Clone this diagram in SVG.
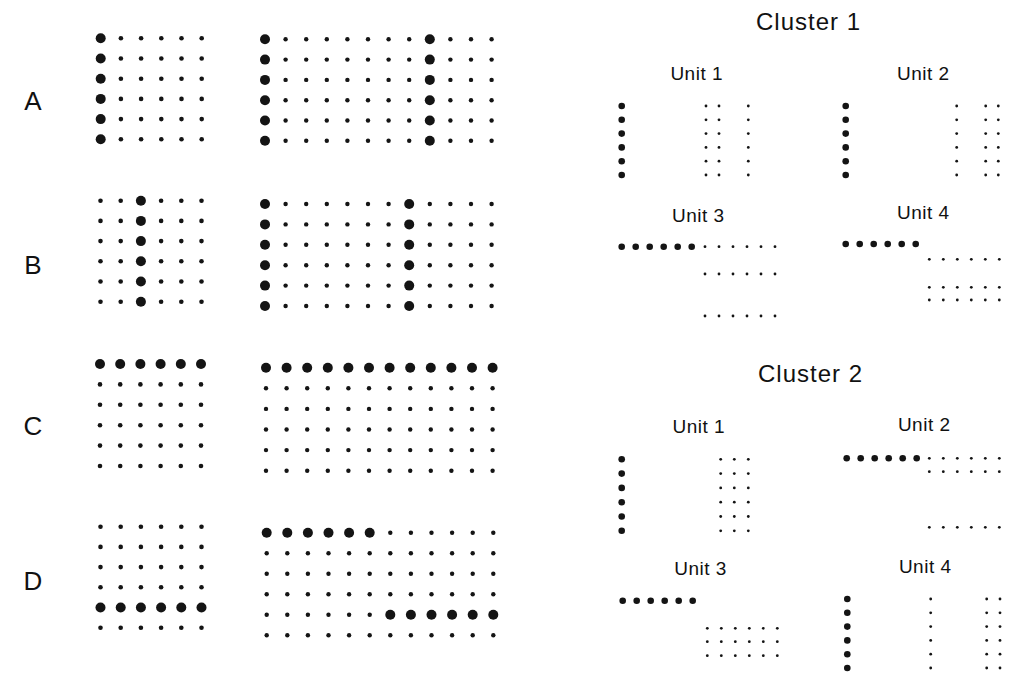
<svg xmlns="http://www.w3.org/2000/svg" width="1012" height="673" viewBox="0 0 1012 673">
<style>
text{font-family:"Liberation Sans",Arial,sans-serif;fill:#111}
.lbl{font-size:26px;text-anchor:middle}
.cl{font-size:24px;text-anchor:middle;letter-spacing:1px}
.un{font-size:19px;text-anchor:middle;letter-spacing:0.5px}
circle{fill:#141414}
</style>
<defs>
<g id="a6s"><circle cx="0" r="2.3"/><circle cx="20.2" r="2.3"/><circle cx="40.4" r="2.3"/><circle cx="60.6" r="2.3"/><circle cx="80.8" r="2.3"/><circle cx="101" r="2.3"/></g>
<g id="a6b"><circle cx="0" r="5"/><circle cx="20.2" r="5"/><circle cx="40.4" r="5"/><circle cx="60.6" r="5"/><circle cx="80.8" r="5"/><circle cx="101" r="5"/></g>
<g id="b6s"><circle cx="0" r="2.2"/><circle cx="20.6" r="2.2"/><circle cx="41.2" r="2.2"/><circle cx="61.8" r="2.2"/><circle cx="82.4" r="2.2"/><circle cx="103" r="2.2"/></g>
<g id="b6b"><circle cx="0" r="5"/><circle cx="20.6" r="5"/><circle cx="41.2" r="5"/><circle cx="61.8" r="5"/><circle cx="82.4" r="5"/><circle cx="103" r="5"/></g>
<g id="hB"><circle cx="0" r="3.3"/><circle cx="14" r="3.3"/><circle cx="28" r="3.3"/><circle cx="42" r="3.3"/><circle cx="56" r="3.3"/><circle cx="70" r="3.3"/></g>
<g id="hs"><circle cx="0" r="1.4"/><circle cx="14" r="1.4"/><circle cx="28" r="1.4"/><circle cx="42" r="1.4"/><circle cx="56" r="1.4"/><circle cx="70" r="1.4"/></g>
<g id="vB"><circle cy="0" r="3.3"/><circle cy="13.8" r="3.3"/><circle cy="27.6" r="3.3"/><circle cy="41.4" r="3.3"/><circle cy="55.2" r="3.3"/><circle cy="69" r="3.3"/></g>
<g id="vs"><circle cy="0" r="1.4"/><circle cy="13.8" r="1.4"/><circle cy="27.6" r="1.4"/><circle cy="41.4" r="1.4"/><circle cy="55.2" r="1.4"/><circle cy="69" r="1.4"/></g>
<g id="wB"><circle cy="0" r="3.3"/><circle cy="14.3" r="3.3"/><circle cy="28.6" r="3.3"/><circle cy="42.9" r="3.3"/><circle cy="57.2" r="3.3"/><circle cy="71.5" r="3.3"/></g>
<g id="ws"><circle cy="0" r="1.4"/><circle cy="14.3" r="1.4"/><circle cy="28.6" r="1.4"/><circle cy="42.9" r="1.4"/><circle cy="57.2" r="1.4"/><circle cy="71.5" r="1.4"/></g>
</defs>
<rect width="1012" height="673" fill="#fff"/>

<g id="labels">
<text class="lbl" x="33" y="110">A</text>
<text class="lbl" x="33" y="274">B</text>
<text class="lbl" x="33" y="435">C</text>
<text class="lbl" x="33" y="590">D</text>
</g>

<g id="gridA-left">
<use href="#a6s" x="100.7" y="38.3"/><use href="#a6s" x="100.7" y="58.5"/><use href="#a6s" x="100.7" y="78.7"/><use href="#a6s" x="100.7" y="98.9"/><use href="#a6s" x="100.7" y="119.1"/><use href="#a6s" x="100.7" y="139.3"/>
<circle cx="100.7" cy="38.3" r="5"/><circle cx="100.7" cy="58.5" r="5"/><circle cx="100.7" cy="78.7" r="5"/><circle cx="100.7" cy="98.9" r="5"/><circle cx="100.7" cy="119.1" r="5"/><circle cx="100.7" cy="139.3" r="5"/>
</g>
<g id="gridA-right">
<use href="#b6s" x="265" y="39.3"/><use href="#b6s" x="388.6" y="39.3"/>
<use href="#b6s" x="265" y="59.6"/><use href="#b6s" x="388.6" y="59.6"/>
<use href="#b6s" x="265" y="79.9"/><use href="#b6s" x="388.6" y="79.9"/>
<use href="#b6s" x="265" y="100.2"/><use href="#b6s" x="388.6" y="100.2"/>
<use href="#b6s" x="265" y="120.5"/><use href="#b6s" x="388.6" y="120.5"/>
<use href="#b6s" x="265" y="140.8"/><use href="#b6s" x="388.6" y="140.8"/>
<circle cx="265" cy="39.3" r="5"/><circle cx="265" cy="59.6" r="5"/><circle cx="265" cy="79.9" r="5"/><circle cx="265" cy="100.2" r="5"/><circle cx="265" cy="120.5" r="5"/><circle cx="265" cy="140.8" r="5"/>
<circle cx="429.8" cy="39.3" r="5"/><circle cx="429.8" cy="59.6" r="5"/><circle cx="429.8" cy="79.9" r="5"/><circle cx="429.8" cy="100.2" r="5"/><circle cx="429.8" cy="120.5" r="5"/><circle cx="429.8" cy="140.8" r="5"/>
</g>

<g id="gridB-left">
<use href="#a6s" x="100.5" y="200.7"/><use href="#a6s" x="100.5" y="220.9"/><use href="#a6s" x="100.5" y="241.1"/><use href="#a6s" x="100.5" y="261.3"/><use href="#a6s" x="100.5" y="281.5"/><use href="#a6s" x="100.5" y="301.7"/>
<circle cx="140.9" cy="200.7" r="5"/><circle cx="140.9" cy="220.9" r="5"/><circle cx="140.9" cy="241.1" r="5"/><circle cx="140.9" cy="261.3" r="5"/><circle cx="140.9" cy="281.5" r="5"/><circle cx="140.9" cy="301.7" r="5"/>
</g>
<g id="gridB-right">
<use href="#b6s" x="265" y="204"/><use href="#b6s" x="388.6" y="204"/>
<use href="#b6s" x="265" y="224.4"/><use href="#b6s" x="388.6" y="224.4"/>
<use href="#b6s" x="265" y="244.8"/><use href="#b6s" x="388.6" y="244.8"/>
<use href="#b6s" x="265" y="265.2"/><use href="#b6s" x="388.6" y="265.2"/>
<use href="#b6s" x="265" y="285.6"/><use href="#b6s" x="388.6" y="285.6"/>
<use href="#b6s" x="265" y="306"/><use href="#b6s" x="388.6" y="306"/>
<circle cx="265" cy="204" r="5"/><circle cx="265" cy="224.4" r="5"/><circle cx="265" cy="244.8" r="5"/><circle cx="265" cy="265.2" r="5"/><circle cx="265" cy="285.6" r="5"/><circle cx="265" cy="306" r="5"/>
<circle cx="409.2" cy="204" r="5"/><circle cx="409.2" cy="224.4" r="5"/><circle cx="409.2" cy="244.8" r="5"/><circle cx="409.2" cy="265.2" r="5"/><circle cx="409.2" cy="285.6" r="5"/><circle cx="409.2" cy="306" r="5"/>
</g>

<g id="gridC-left">
<use href="#a6b" x="100" y="364"/><use href="#a6s" x="100" y="384.4"/><use href="#a6s" x="100" y="404.8"/><use href="#a6s" x="100" y="425.2"/><use href="#a6s" x="100" y="445.6"/><use href="#a6s" x="100" y="466"/>
</g>
<g id="gridC-right">
<use href="#b6b" x="266" y="367.7"/><use href="#b6b" x="389.6" y="367.7"/>
<use href="#b6s" x="266" y="388.3"/><use href="#b6s" x="389.6" y="388.3"/>
<use href="#b6s" x="266" y="408.9"/><use href="#b6s" x="389.6" y="408.9"/>
<use href="#b6s" x="266" y="429.5"/><use href="#b6s" x="389.6" y="429.5"/>
<use href="#b6s" x="266" y="450.1"/><use href="#b6s" x="389.6" y="450.1"/>
<use href="#b6s" x="266" y="470.7"/><use href="#b6s" x="389.6" y="470.7"/>
</g>

<g id="gridD-left">
<use href="#a6s" x="100.5" y="526.7"/><use href="#a6s" x="100.5" y="546.9"/><use href="#a6s" x="100.5" y="567.1"/><use href="#a6s" x="100.5" y="587.3"/><use href="#a6b" x="100.5" y="607.5"/><use href="#a6s" x="100.5" y="627.7"/>
</g>
<g id="gridD-right">
<use href="#b6b" x="266.7" y="532.7"/><use href="#b6s" x="390.3" y="532.7"/>
<use href="#b6s" x="266.7" y="553.2"/><use href="#b6s" x="390.3" y="553.2"/>
<use href="#b6s" x="266.7" y="573.7"/><use href="#b6s" x="390.3" y="573.7"/>
<use href="#b6s" x="266.7" y="594.2"/><use href="#b6s" x="390.3" y="594.2"/>
<use href="#b6s" x="266.7" y="614.7"/><use href="#b6b" x="390.3" y="614.7"/>
<use href="#b6s" x="266.7" y="635.2"/><use href="#b6s" x="390.3" y="635.2"/>
</g>

<g id="cluster1">
<text class="cl" x="808.5" y="30">Cluster 1</text>
<g id="c1-unit1">
<text class="un" x="696.7" y="80">Unit 1</text>
<use href="#vB" x="621.7" y="106"/><use href="#vs" x="706" y="106"/><use href="#vs" x="719" y="106"/><use href="#vs" x="748.3" y="106"/>
</g>
<g id="c1-unit2">
<text class="un" x="923.3" y="80">Unit 2</text>
<use href="#vB" x="845.7" y="106"/><use href="#vs" x="956.7" y="106"/><use href="#vs" x="985.7" y="106"/><use href="#vs" x="998.3" y="106"/>
</g>
<g id="c1-unit3">
<text class="un" x="698.3" y="222.3">Unit 3</text>
<use href="#hB" x="621.7" y="246.7"/><use href="#hs" x="705" y="246.7"/><use href="#hs" x="705" y="274"/><use href="#hs" x="705" y="316"/>
</g>
<g id="c1-unit4">
<text class="un" x="923.3" y="219.3">Unit 4</text>
<use href="#hB" x="845.7" y="244"/><use href="#hs" x="929.3" y="259.3"/><use href="#hs" x="929.3" y="287.3"/><use href="#hs" x="929.3" y="300"/>
</g>
</g>

<g id="cluster2">
<text class="cl" x="810.5" y="381.7">Cluster 2</text>
<g id="c2-unit1">
<text class="un" x="698.8" y="432.7">Unit 1</text>
<use href="#wB" x="621.7" y="459.3"/><use href="#ws" x="720.7" y="459.3"/><use href="#ws" x="734.3" y="459.3"/><use href="#ws" x="748.3" y="459.3"/>
</g>
<g id="c2-unit2">
<text class="un" x="924.2" y="430.7">Unit 2</text>
<use href="#hB" x="846.7" y="458.3"/><use href="#hs" x="929.3" y="458.3"/><use href="#hs" x="929.3" y="471.7"/><use href="#hs" x="929.3" y="527.3"/>
</g>
<g id="c2-unit3">
<text class="un" x="700.5" y="575">Unit 3</text>
<use href="#hB" x="622.7" y="600.7"/><use href="#hs" x="707.3" y="628.3"/><use href="#hs" x="707.3" y="641.7"/><use href="#hs" x="707.3" y="655.7"/>
</g>
<g id="c2-unit4">
<text class="un" x="925.2" y="573.3">Unit 4</text>
<use href="#vB" x="847.3" y="599"/><use href="#vs" x="930.7" y="599"/><use href="#vs" x="986.7" y="599"/><use href="#vs" x="1000" y="599"/>
</g>
</g>
</svg>
